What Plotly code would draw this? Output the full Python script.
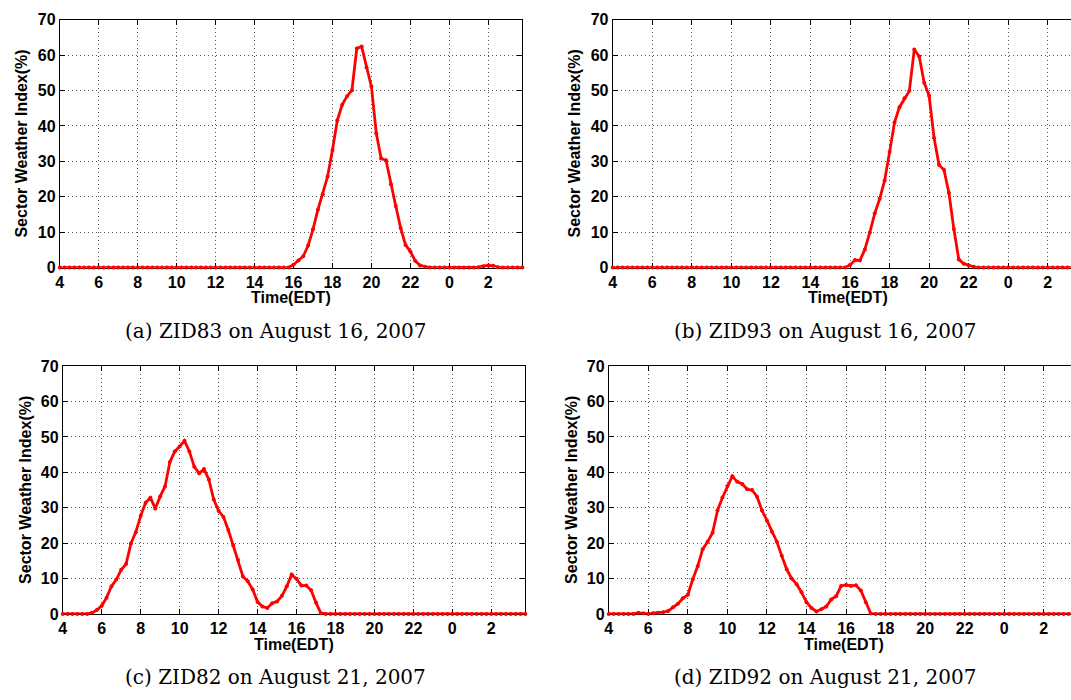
import plotly.graph_objects as go

# ---------------- data ----------------
# 15-minute samples from 04:00 to 03:45 next day (hours 4.0 .. 27.75)
hours = [4 + 0.25 * i for i in range(96)]

tick_vals = [4, 6, 8, 10, 12, 14, 16, 18, 20, 22, 24, 26]
tick_text = ["4", "6", "8", "10", "12", "14", "16", "18", "20", "22", "0", "2"]
y_ticks = [0, 10, 20, 30, 40, 50, 60, 70]

zid83_aug16 = [
    0, 0, 0, 0, 0, 0, 0, 0, 0, 0, 0, 0,
    0, 0, 0, 0, 0, 0, 0, 0, 0, 0, 0, 0,
    0, 0, 0, 0, 0, 0, 0, 0, 0, 0, 0, 0,
    0, 0, 0, 0, 0, 0, 0, 0, 0, 0, 0, 0,
    0.8, 2.0, 3.2, 6.2, 10.8, 16.3, 20.7, 25.7, 33.2, 41.6, 46.0, 48.4,
    50.1, 61.9, 62.4, 56.5, 51.1, 37.9, 30.8, 30.3, 23.5, 17.4, 11.2, 6.4,
    4.5, 1.9, 0.6, 0.2, 0, 0, 0, 0, 0, 0, 0, 0,
    0, 0, 0.1, 0.4, 0.6, 0.5, 0.1, 0, 0, 0, 0, 0,
]

zid93_aug16 = [
    0, 0, 0, 0, 0, 0, 0, 0, 0, 0, 0, 0,
    0, 0, 0, 0, 0, 0, 0, 0, 0, 0, 0, 0,
    0, 0, 0, 0, 0, 0, 0, 0, 0, 0, 0, 0,
    0, 0, 0, 0, 0, 0, 0, 0, 0, 0, 0, 0,
    0.7, 2.1, 2.0, 5.1, 9.9, 15.3, 19.4, 24.6, 32.6, 41.0, 45.3, 47.8,
    49.9, 61.6, 59.6, 52.2, 48.5, 36.6, 29.0, 27.6, 21.1, 10.9, 2.3, 1.1,
    0.6, 0.2, 0, 0, 0, 0, 0, 0, 0, 0, 0, 0,
    0, 0, 0, 0, 0, 0, 0, 0, 0, 0, 0, 0,
]

zid82_aug21 = [
    0, 0, 0, 0, 0, 0, 0.3, 1.1, 2.3, 4.6, 7.8, 9.7,
    12.5, 14.1, 19.9, 23.1, 27.7, 31.4, 32.8, 29.8, 33.2, 36.0, 42.9, 45.9,
    47.3, 48.9, 45.9, 41.6, 39.7, 40.9, 38.0, 32.3, 29.1, 27.4, 23.7, 19.4,
    15.2, 10.6, 9.2, 6.9, 3.4, 2.1, 1.7, 3.0, 3.5, 5.1, 7.8, 11.1,
    9.9, 8.0, 8.0, 6.7, 3.2, 0.2, 0, 0, 0, 0, 0, 0,
    0, 0, 0, 0, 0, 0, 0, 0, 0, 0, 0, 0,
    0, 0, 0, 0, 0, 0, 0, 0, 0, 0, 0, 0,
    0, 0, 0, 0, 0, 0, 0, 0, 0, 0, 0, 0,
]

zid92_aug21 = [
    0, 0, 0, 0, 0, 0, 0.3, 0.2, 0, 0.2, 0.3, 0.5,
    0.8, 1.9, 2.9, 4.4, 5.4, 9.8, 13.5, 18.3, 20.4, 22.9, 29.2, 32.9,
    36.1, 38.9, 37.3, 36.7, 35.2, 35.0, 33.1, 29.2, 26.4, 23.2, 20.4, 16.4,
    12.6, 10.0, 8.4, 6.1, 3.3, 1.7, 0.7, 1.3, 2.1, 4.1, 5.0, 7.9,
    8.2, 7.9, 8.1, 6.6, 3.3, 0.1, 0, 0, 0, 0, 0, 0,
    0, 0, 0, 0, 0, 0, 0, 0, 0, 0, 0, 0,
    0, 0, 0, 0, 0, 0, 0, 0, 0, 0, 0, 0,
    0, 0, 0, 0, 0, 0, 0, 0, 0, 0, 0, 0,
]

captions = [
    "(a) ZID83 on August 16, 2007",
    "(b) ZID93 on August 16, 2007",
    "(c) ZID82 on August 21, 2007",
    "(d) ZID92 on August 21, 2007",
]
series = [zid83_aug16, zid93_aug16, zid82_aug21, zid92_aug21]

# ---------------- layout ----------------
W, H = 1071, 700
SANS = "Liberation Sans"
SERIF = "DejaVu Serif"
FS = 16


def px(p):      # page x pixel -> paper fraction
    return p / W


def py(p):      # page y pixel (from top) -> paper fraction
    return 1 - p / H


# panel boxes in page pixels: (x of hour 4, px per hour, top, bottom, caption x)
panels = [
    (56, 19.55, 12, 266, 273),
    (611, 19.85, 12, 266, 824),
    (59, 19.55, 367, 621, 273),
    (607, 19.85, 367, 621, 824),
]

fig = go.Figure()
annotations = []
for k, (vals, cap, (x0, pph, top, bot, capx)) in enumerate(zip(series, captions, panels)):
    n = "" if k == 0 else str(k + 1)
    full_right = x0 + pph * 23.75
    right = min(full_right, W)
    xmax = 4 + (right - x0) / pph
    fig.add_trace(go.Scatter(
        x=hours, y=vals, mode="lines+markers",
        line=dict(color="#ff0000", width=2.8),
        marker=dict(color="#ff0000", size=4),
        cliponaxis=False, showlegend=False,
        xaxis="x" + n, yaxis="y" + n,
    ))
    is_right = k % 2 == 1
    grid = dict(showgrid=True, gridcolor="#555555", griddash="1px,3px", gridwidth=1)
    fig.layout["xaxis" + n] = dict(
        domain=[px(x0), min(px(right), 1.0)], range=[4, xmax], anchor="y" + n,
        tickvals=tick_vals, ticktext=tick_text,
        ticks="inside", ticklen=5, tickcolor="black",
        showline=True, linecolor="black", linewidth=1, mirror="ticks",
        zeroline=False, layer="below traces",
        tickfont=dict(family=SANS, size=FS, color="black", weight="bold"),
        **grid,
    )
    fig.layout["yaxis" + n] = dict(
        domain=[py(bot), py(top)], range=[0, 70], anchor="x" + n,
        tickvals=y_ticks,
        ticks="inside", ticklen=5, tickcolor="black",
        showline=True, linecolor="black", linewidth=1,
        mirror=False if is_right else "ticks",
        zeroline=False, layer="below traces",
        tickfont=dict(family=SANS, size=FS, color="black", weight="bold"),
        **grid,
    )
    xc = (x0 + full_right) / 2
    annotations.append(dict(
        text="Time(EDT)", xref="paper", yref="paper",
        x=px(xc), y=py(bot + 31), showarrow=False,
        xanchor="center", yanchor="middle",
        font=dict(family=SANS, size=FS, color="black", weight="bold"),
    ))
    annotations.append(dict(
        text="Sector Weather Index(%)", xref="paper", yref="paper",
        x=px(x0 - 38), y=py((top + bot) / 2), showarrow=False,
        textangle=-90, xanchor="center", yanchor="middle",
        font=dict(family=SANS, size=FS, color="black", weight="bold"),
    ))
    annotations.append(dict(
        text=cap, xref="paper", yref="paper",
        x=px(capx), y=py(bot + 65),
        showarrow=False, xanchor="center", yanchor="middle",
        font=dict(family=SERIF, size=20, color="black"),
    ))

fig.update_layout(
    width=W, height=H, margin=dict(l=0, r=0, t=0, b=0),
    paper_bgcolor="white", plot_bgcolor="white",
    annotations=annotations,
)

fig.write_html(
    "out.html",
    config={"displayModeBar": False},
    post_script="document.body.style.margin='0';document.body.style.padding='0';"
                "document.body.style.overflow='hidden';",
)
